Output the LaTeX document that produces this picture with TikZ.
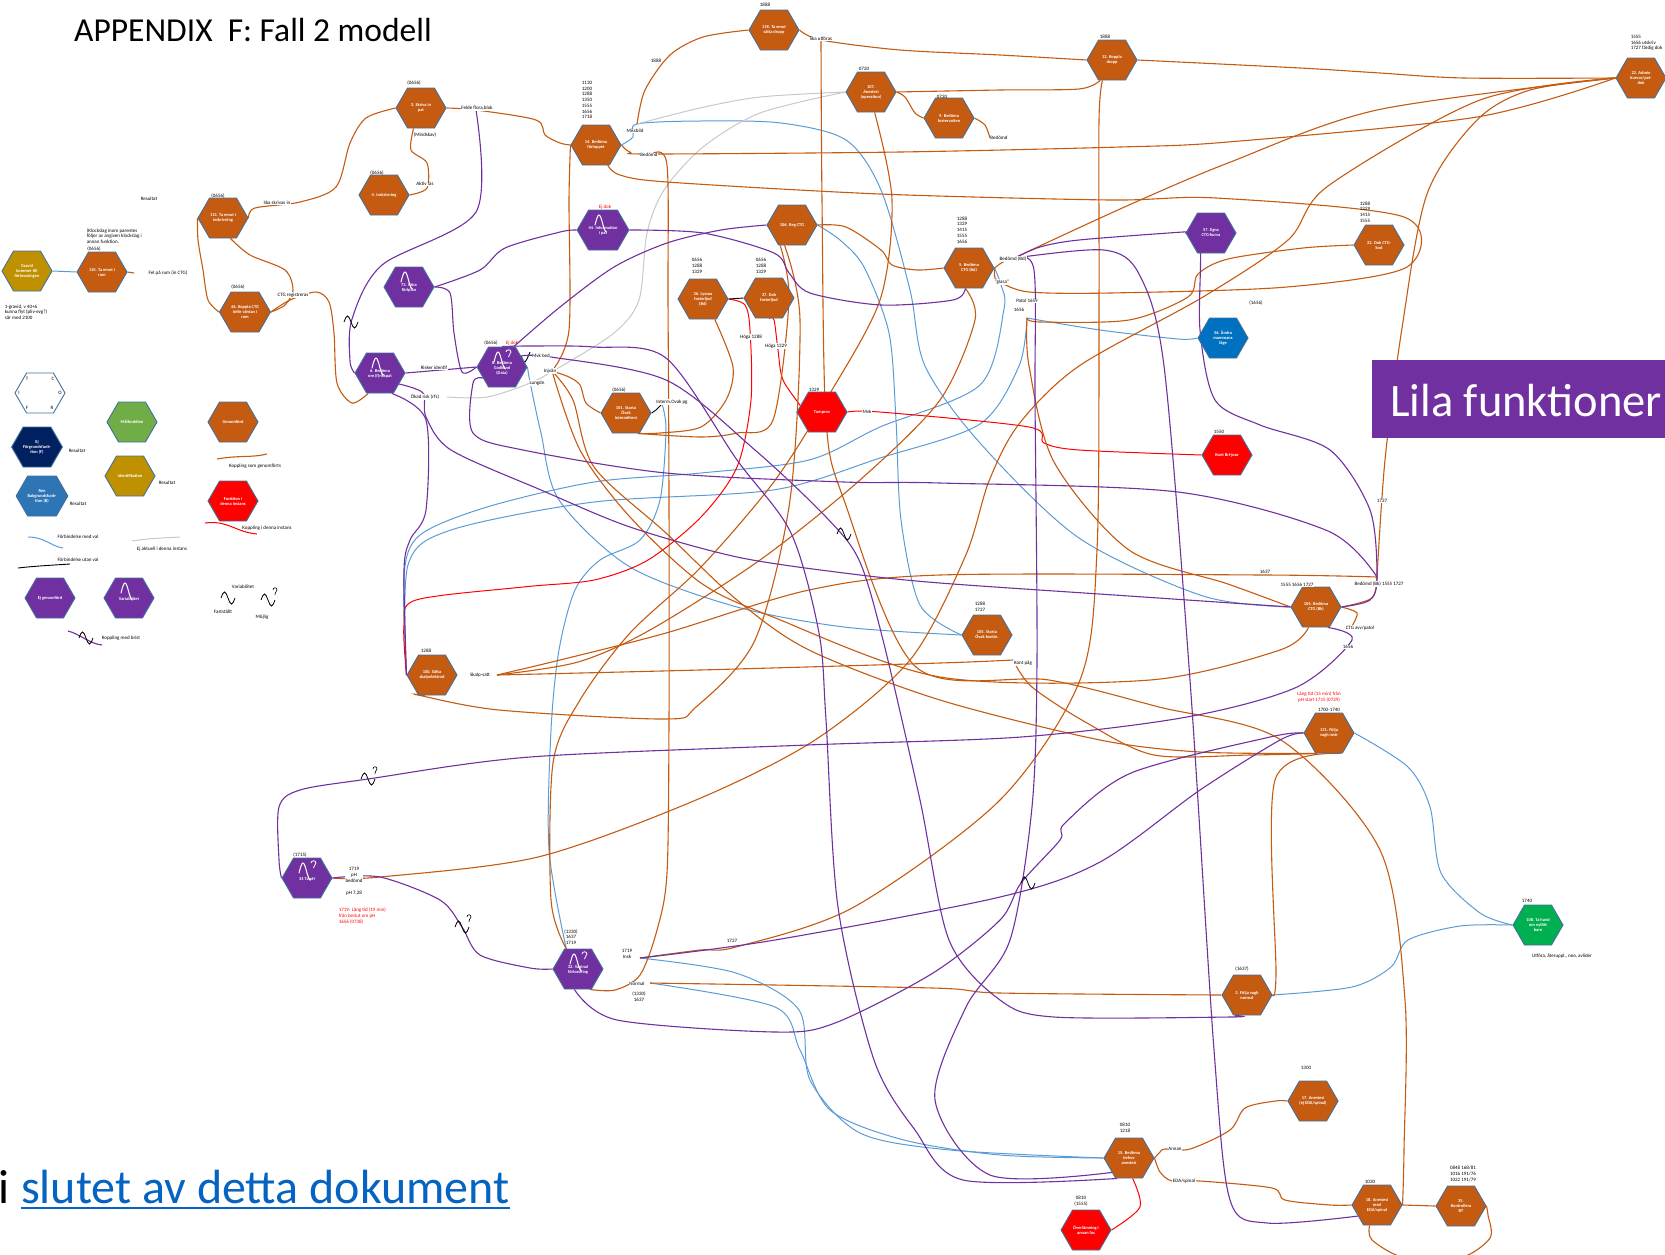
\documentclass[tikz,border=0pt]{standalone}
\usepackage{fontspec}
\setmainfont{Carlito}
\usetikzlibrary{shapes.symbols,calc}
\definecolor{cOr}{HTML}{C55A11}
\definecolor{cPu}{HTML}{7030A0}
\definecolor{cRe}{HTML}{FF0000}
\definecolor{cBl}{HTML}{5B9BD5}
\definecolor{cGy}{HTML}{C8C8C8}
\definecolor{cEdge}{HTML}{41719C}
\definecolor{cNavy}{HTML}{002060}
\definecolor{cLB}{HTML}{2E75B6}
\definecolor{cB56}{HTML}{0070C0}
\definecolor{cGrn}{HTML}{70AD47}
\definecolor{cGrn2}{HTML}{00B050}
\definecolor{cGold}{HTML}{BF9000}
\definecolor{cLink}{HTML}{0563C1}
\pgfdeclarelayer{bg}
\pgfsetlayers{bg,main}
\tikzset{
 hex/.style={shape=signal, signal to=west and east, signal pointer angle=120,
   minimum width=50pt, minimum height=40pt, inner sep=0pt, draw=cEdge, line width=0.9pt,
   text=white, font=\fontsize{4.4}{5}\selectfont\bfseries, align=center},
 ho/.style={hex, fill=cOr},
 hp/.style={hex, fill=cPu},
 hr/.style={hex, fill=cRe},
 lab/.style={font=\fontsize{5}{5.7}\selectfont, inner sep=0.6pt, align=center},
 labw/.style={lab, fill=white},
 rlab/.style={lab, text=cRe},
 lnO/.style={draw=cOr, line width=1.1pt},
 lnP/.style={draw=cPu, line width=1.1pt},
 lnB/.style={draw=cBl, line width=1pt},
 lnG/.style={draw=cGy, line width=1pt},
 lnR/.style={draw=cRe, line width=1pt},
 lnK/.style={draw=black, line width=0.9pt},
 wave/.pic={\draw[white,line width=1pt,line cap=round] (-8,-5) sin (-4,-15) cos (0,-5) sin (3.5,2);},
 waveq/.pic={\draw[white,line width=1pt,line cap=round] (-8,-5) sin (-4,-15) cos (0,-5) sin (3.5,2);
   \draw[white,line width=0.8pt] (4,-15) .. controls (4,-18) and (9,-18) .. (9,-15) .. controls (9,-13) and (6.5,-13) .. (6.5,-10);},
 tilde/.pic={\draw[black,line width=0.8pt] (-7,0) sin (-3.5,-6) cos (0,0) sin (3.5,6) cos (7,0);},
 tildeq/.pic={\draw[black,line width=0.8pt] (-7,0) sin (-3.5,-6) cos (0,0) sin (3.5,6) cos (7,0);
   \draw[black,line width=0.6pt] (5,-10) .. controls (5,-13) and (9,-13) .. (9,-10) .. controls (9,-8.5) and (7,-8.5) .. (7,-5);}
}
\begin{document}
\begin{tikzpicture}[x=1pt,y=-1pt]
\useasboundingbox (0,0) rectangle (1665,1254);

% ---------- headings ----------
\node[anchor=base west, font=\fontsize{33.5}{33.5}\selectfont, inner sep=0pt] (title) at (74,41) {APPENDIX\ \ F: Fall 2 modell};
\fill[cPu] (1372,360) rectangle (1665,438);
\node[anchor=base west, text=white, font=\fontsize{46.5}{46.5}\selectfont, inner sep=0pt] (lila) at (1390,416) {Lila funktioner};
\node[anchor=base west, font=\fontsize{48}{48}\selectfont, inner sep=0pt] (iword) at (-2,1203) {i};
\node[anchor=base west, text=cLink, font=\fontsize{48}{48}\selectfont, inner sep=0pt] (link) at (21,1203) {slutet av detta dokument};
\draw[cLink, line width=2.6pt] ([yshift=-5pt]link.base west) -- ([yshift=-5pt]link.base east);

% ---------- function nodes ----------
\node[hex, fill=cGold] (g) at (27,271) {Gravid\\kommer till\\förlossningen};
\node[ho] (n110) at (102,272) {110. Ta emot i\\rum};
\node[ho] (n113) at (223,218) {113. Ta emot i\\inskrivning};
\node[ho] (n46) at (245,312) {46. Koppla CTG\\inför väntan i\\rum};
\node[ho] (n3) at (421,108) {3. Skriva in\\pat};
\node[ho] (n4) at (384,195) {4. Inskrivning};
\node[hp] (n73) at (409,287) {\mbox{}\\73. Göra\\förlplan};
\node[hp] (n6) at (380,373) {\mbox{}\\6. Bedöma\\om (f)riskpat};
\node[hp] (n8) at (502,367) {\mbox{}\\8. Bedöma\\Godkänd\\(Data)};
\node[ho] (n14) at (596,145) {14. Bedöma\\förloppet};
\node[ho] (n118) at (774,30) {118. Ta emot\\sätta dropp};
\node[ho] (n107) at (871,92) {107.\\Anestesi\\(operation)};
\node[ho] (n9) at (949,118) {9. Bedöma\\fostervatten};
\node[ho] (n12) at (1112,60) {12. Koppla\\dropp};
\node[ho] (n23) at (1641,78) {23. Admin\\kurvor/pat-\\dok};
\node[hp] (n44) at (603,230) {\mbox{}\\44. Information\\i pat};
\node[ho] (n106) at (792,225) {106. Reg CTG};
\node[ho] (n36) at (703,299) {36. Lyssna\\fosterljud\\(Bd)};
\node[ho] (n37) at (769,298) {37. Dok\\fosterljud};
\node[ho] (n5) at (969,268) {5. Bedöma\\CTG (Bd)};
\node[hp] (n57) at (1211,233) {57. Egna\\CTG-kurva};
\node[ho] (n22) at (1379,245) {22. Dok CTG-\\kod};
\node[hex, fill=cB56] (n56) at (1223,338) {56. Ändra\\mammans\\läge};
\node[ho] (n101) at (626,413) {101. Starta\\Övak\\intermittent};
\node[hr] (ntu) at (822,412) {Tumprov};
\node[hr] (nkb) at (1227,455) {Kont Bri-jour};
\node[ho] (n100) at (432,675) {100. Sätta\\skalpelektrod};
\node[ho] (n105) at (987,635) {105. Starta\\Övak kontin.};
\node[ho] (n104) at (1316,607) {104. Bedöma\\CTG (Bk)};
\node[ho] (n131) at (1329,733) {131. Följa\\vagh instr};
\node[hex, fill=cGrn2] (n108) at (1538,925) {108. Ta hand\\om nyfött\\barn};
\node[hp] (n34) at (307,878) {\mbox{}\\34 Ta pH};
\node[hp] (n32) at (578,969) {\mbox{}\\32. Vaginal\\förlossning};
\node[ho] (n3f) at (1247,995) {3. Följa vagh\\normal};
\node[ho] (n15) at (1129,1158) {15. Bedöma\\behov\\anestesi};
\node[ho] (n17) at (1313,1101) {17. Anestesi\\(ej EDA/spinal)};
\node[hr] (nov) at (1086,1230) {Överlämning i\\annan fas};
\node[ho] (n18) at (1377,1205) {18. Anestesi\\med\\EDA/spinal};
\node[ho] (n35) at (1461,1206) {35.\\Kontrollera\\BT};

\pic at (n73) {wave};
\pic at (n6) {wave};
\pic at (n8) {waveq};
\pic at (n44) {wave};
\pic at (n34) {waveq};
\pic at (n32) {waveq};

% ---------- legend ----------
\node[hex, fill=white] (lgT) at (40,393) {};
\node[lab] (lt1) at (27,379) {T};
\node[lab] (lt2) at (53,379) {C};
\node[lab] (lt3) at (19,393) {I};
\node[lab] (lt4) at (60,393) {O};
\node[lab] (lt5) at (27,408) {F};
\node[lab] (lt6) at (52,408) {R};
\node[hex, fill=cNavy] (lgF) at (37,447) {Ej\\Förgrundsfunk-\\tion (F)};
\node[hex, fill=cLB] (lgB) at (42,496) {Ren\\Bakgrundsfunk-\\tion (B)};
\node[hex, fill=cGrn] (lgM) at (132,422) {Målfunktion};
\node[hex, fill=cGold] (lgI) at (130,476) {Identifikation};
\node[ho] (lgG) at (233,422) {Genomförd};
\node[hr] (lgR) at (233,501) {Funktion i\\denna instans};
\node[hp] (lgE) at (50,598) {Ej genomförd};
\node[hp] (lgV) at (129,598) {\mbox{}\\Variabilitet};
\pic at (lgV) {wave};
\node[lab] (lr1) at (77,451) {Resultat};
\node[lab] (lr2) at (78,504) {Resultat};
\node[lab] (lr3) at (167,483) {Resultat};
\draw[lnO] (217,459) .. controls (240,455) and (250,458) .. (267,454);
\node[lab] (lk1) at (255,466) {Koppling som genomförts};
\draw[lnR] (205,523) .. controls (228,520) and (235,532) .. (257,534);
\node[lab] (lk2) at (267,528) {Koppling i denna instans};
\draw[lnB] (28,537) .. controls (45,537) and (50,546) .. (63,548);
\node[lab] (lk3) at (78,537) {Förbindelse med val};
\draw[lnG] (132,541) .. controls (150,538) and (165,538) .. (180,537);
\node[lab] (lk4) at (162,549) {Ej aktuell i denna instans};
\draw[lnK] (18,568) .. controls (35,566) and (55,565) .. (70,564);
\node[lab] (lk5) at (78,560) {Förbindelse utan val};
\pic at (228,598) {tilde};
\pic at (268,600) {tildeq};
\node[lab] (lk6) at (243,587) {Variabilitet};
\node[lab] (lk7) at (223,612) {Fastställt};
\node[lab] (lk8) at (262,617) {Möjlig};
\draw[lnP] (68,631) .. controls (80,634) and (90,644) .. (102,645);
\pic at (86,638) {tilde};
\node[lab] (lk9) at (121,638) {Koppling med brist};

% ---------- named junctions on connectors ----------
\coordinate (missb) at (637,124);
\coordinate (bedd14) at (652,154);
\coordinate (skautf) at (821,40);
\coordinate (felde) at (476,110);
\coordinate (pat) at (1027,318);
\coordinate (glasa) at (1002,283);
\coordinate (bedbd) at (1015,258);
\coordinate (injv) at (552,371);
\coordinate (corner) at (1377,577);
\coordinate (skalp) at (497,675);
\coordinate (kontpag) at (1013,660);
\coordinate (insk) at (640,958);
\coordinate (norm) at (650,983);
\coordinate (okad) at (447,397);
\coordinate (ctgreg) at (316,292);
\coordinate (interm) at (662,404);
\coordinate (felrum) at (134,273);
\coordinate (bed9) at (990,138);
\coordinate (annan) at (1165,1149);
\coordinate (eda) at (1172,1181);
\coordinate (ctgavv) at (1352,626);

\begin{pgfonlayer}{bg}
% ---- blue: connections with choice ----
\draw[lnB] (g.east) -- (n110.west);
\draw[lnB] plot[smooth] coordinates {(n14.east) (633,137) (missb) (700,121) (781,123) (846,140) (881,190) (910,290) (925,366) (980,443) (1079,538) (1203,596) (n104.west)};
\draw[lnB] plot[smooth] coordinates {(n106.east) (840,240) (864,267) (889,333) (896,420) (901,520) (920,605) (n105.west)};
\draw[lnB] plot[smooth] coordinates {(n5.east) (1001,285) (1004,309) (980,385) (880,427) (809,460) (701,473) (594,482) (487,507) (420,535) (404,575) (n100.west)};
\draw[lnB] plot[smooth] coordinates {(pat) (1019,366) (980,424) (880,458) (773,490) (594,502) (451,530) (408,565) (n100.west)};
\draw[lnB] plot[smooth] coordinates {(pat) (1100,330) (1178,339) (n56.west)};
\draw[lnB] plot[smooth] coordinates {(n8.east) (530,382) (541,433) (559,500) (630,567) (737,607) (844,627) (n105.west)};
\draw[lnB] plot[smooth] coordinates {(interm) (666,430) (660,500) (640,540) (600,560) (575,590) (559,650) (551,730) (549,850) (n32.120)};
\draw[lnB] plot[smooth] coordinates {(insk) (736,973) (799,1010) (810,1080) (860,1133) (950,1150) (n15.west)};
\draw[lnB] plot[smooth] coordinates {(norm) (775,1007) (800,1050) (830,1110) (904,1140) (1000,1155) (n15.west)};
\draw[lnB] plot[smooth] coordinates {(n131.east) (1408,767) (1430,807) (1441,873) (1480,913) (n108.west)};
\draw[lnB] plot[smooth] coordinates {(n3f.east) (1352,987) (1391,967) (1408,940) (1460,926) (n108.west)};

% ---- red: connections in this instance ----
\draw[lnR] plot[smooth] coordinates {(n36.east) (745,305) (750,330) (751,400) (737,467) (701,517) (648,560) (594,580) (523,587) (416,600) (404,625) (n100.west)};
\draw[lnR] plot[smooth] coordinates {(n37.south) (774,320) (778,350) (783,380) (803,410) (ntu.west)};
\draw[lnR] plot[smooth] coordinates {(ntu.east) (880,412) (1029,427) (1044,443) (1079,450) (nkb.west)};
\draw[lnR] plot[smooth] coordinates {(n15.-80) (1140,1207) (nov.east)};

% ---- grey: not relevant here ----
\draw[lnG] plot[smooth] coordinates {(missb) (700,108) (760,97) (n107.west)};
\draw[lnG] plot[smooth] coordinates {(n107.west) (760,113) (703,147) (664,190) (647,233) (639,300) (614,333) (560,367) (530,383) (487,397) (okad)};

% ---- black ----
\draw[lnK] (n36.east) -- (n37.west);
\draw[lnK] plot[smooth] coordinates {(n8.30) (525,362) (530,352)};
\draw[lnK] plot[smooth] coordinates {(n101.east) (656,410) (interm)};

% ---- orange: completed connections ----
\draw[lnO] plot[smooth] coordinates {(n113.west) (198,240) (203,270) (208,300) (n46.west)};
\draw[lnO] plot[smooth] coordinates {(n46.east) (285,305) (293,290) (285,270) (250,255) (n113.-70)};
\draw[lnO] plot[smooth] coordinates {(n46.east) (290,300) (ctgreg) (329,302) (334,333) (337,383) (352,403) (n6.-120)};
\draw[lnO] plot[smooth] coordinates {(n113.east) (255,208) (300,202) (336,187) (350,143) (366,118) (n3.west)};
\draw[lnO] plot[smooth] coordinates {(n3.-110) (411,150) (427,163) (427,188) (n4.east)};
\draw[lnO] plot[smooth] coordinates {(n3.east) (felde) (536,120) (545,135) (560,143) (n14.west)};
\draw[lnO] (n110.east) -- (felrum);
\draw[lnO] plot[smooth] coordinates {(missb) (645,90) (670,55) (703,37) (n118.west)};
\draw[lnO] plot[smooth] coordinates {(n118.east) (skautf) (900,50) (1000,55) (n12.west)};
\draw[lnO] plot[smooth] coordinates {(n12.east) (1300,68) (1380,73) (1464,78) (n23.west)};
\draw[lnO] plot[smooth] coordinates {(n107.east) (1000,90) (1079,89) (n12.-120)};
\draw[lnO] plot[smooth] coordinates {(n107.east) (905,97) (915,113) (n9.west)};
\draw[lnO] plot[smooth] coordinates {(n9.east) (985,125) (bed9)};
\draw[lnO] plot[smooth] coordinates {(n14.east) (630,152) (bedd14) (900,152) (1120,147) (1228,142) (1477,117) (n23.west)};
\draw[lnO] plot[smooth] coordinates {(bedd14) (667,165) (668,300) (669,500) (669,720) (667,873) (657,930) (640,975) (615,990) (n32.-60)};
\draw[lnO] plot[smooth] coordinates {(n14.-60) (620,175) (667,182) (880,194) (1110,200) (1216,198) (1404,217) (1407,267) (1287,287) (1110,293) (1029,292) (glasa)};
\draw[lnO] plot[smooth] coordinates {(skautf) (822,200) (826,420) (844,500) (916,667) (1049,680) (1159,707) (1281,740) (1380,850) (1405,1000) (1404,1150) (n18.east)};
\draw[lnO] plot[smooth] coordinates {(skalp) (560,660) (666,633) (809,590) (940,575) (1265,575) (corner)};
\draw[lnO] plot[smooth] coordinates {(skalp) (700,670) (940,663) (kontpag)};
\draw[lnO] plot[smooth] coordinates {(skalp) (578,662) (650,630) (760,560) (860,480) (940,400) (975,320) (n5.-100)};
\draw[lnO] plot[smooth] coordinates {(n100.-110) (418,695) (499,710) (665,719) (696,707) (755,640) (790,500) (800,320) (n106.-110)};
\draw[lnO] plot[smooth] coordinates {(n107.-80) (892,200) (880,300) (826,400) (773,483) (701,567) (630,633) (580,700) (553,763) (551,900) (n32.120)};
\draw[lnO] plot[smooth] coordinates {(insk) (700,950) (736,947) (854,907) (1000,800) (1080,680) (1097,550) (1099,300) (1099,120) (n12.-115)};
\draw[lnO] plot[smooth] coordinates {(norm) (933,988) (1000,993) (n3f.west)};
\draw[lnO] plot[smooth] coordinates {(n34.east) (380,877) (538,857) (696,800) (815,740) (910,660) (965,557) (989,481) (1019,424) (1079,366) (1203,297) (1288,240) (1328,186) (1480,100) (n23.west)};
\draw[lnO] plot[smooth] coordinates {(n23.west) (1377,110) (1228,163) (1129,205) (1029,251) (bedbd)};
\draw[lnO] plot[smooth] coordinates {(n23.west) (1530,90) (1477,120) (1427,194) (1402,328) (1385,460) (corner)};
\draw[lnO] plot[smooth] coordinates {(n104.east) (1372,598) (corner)};
\draw[lnO] plot[smooth] coordinates {(n22.west) (1303,248) (1228,259) (1198,274) (1188,297) (1129,320) (1040,322) (pat)};
\draw[lnO] plot[smooth] coordinates {(n106.east) (846,227) (881,250) (892,265) (917,270) (n5.west)};
\draw[lnO] plot[smooth] coordinates {(n101.-60) (701,437) (737,433) (773,420) (789,300) (n106.-120)};
\draw[lnO] plot[smooth] coordinates {(n36.-60) (733,367) (726,400) (701,427) (660,433) (n101.-60)};
\draw[lnO] plot[smooth] coordinates {(injv) (569,377) (580,385) (586,403) (n101.west)};
\draw[lnO] plot[smooth] coordinates {(injv) (573,400) (594,467) (666,533) (737,600) (809,650) (940,700) (1100,740) (1200,752) (n131.-120)};
\draw[lnO] plot[smooth] coordinates {(injv) (580,450) (630,517) (701,583) (773,617) (940,677) (1150,680) (1280,650) (n104.-110)};
\draw[lnO] plot[smooth] coordinates {(n14.west) (569,200) (569,330) (injv)};
\draw[lnO] plot[smooth] coordinates {(kontpag) (1032,687) (1087,723) (1154,755) (1250,755) (n131.-120)};
\draw[lnO] plot[smooth] coordinates {(n131.-60) (1275,780) (1276,973) (n3f.east)};
\draw[lnO] plot[smooth] coordinates {(pat) (1029,366) (1054,462) (1129,550) (1228,584) (n104.west)};
\draw[lnO] plot[smooth] coordinates {(n5.east) (1003,262) (bedbd)};
\draw[lnO] plot[smooth] coordinates {(n5.east) (995,278) (glasa)};
\draw[lnO] plot[smooth] coordinates {(n15.east) (1160,1152) (annan) (1190,1149) (1230,1130) (1245,1108) (1275,1101) (n17.west)};
\draw[lnO] plot[smooth] coordinates {(n15.east) (1160,1172) (eda) (1200,1181) (1272,1188) (1285,1200) (1330,1205) (n18.west)};
\draw[lnO] (n18.east) -- (n35.west);
\draw[lnO] plot[smooth] coordinates {(n18.-110) (1372,1240) (1405,1258) (1460,1258) (1490,1238) (1488,1215) (n35.east)};
\draw[lnO] plot[smooth] coordinates {(n104.east) (1357,613) (ctgavv)};

% ---- purple: not completed ----
\draw[lnP] plot[smooth] coordinates {(felde) (476,212) (382,265) (352,319) (350,361) (n6.west)};
\draw[lnP] plot[smooth] coordinates {(n73.east) (480,270) (505,248) (560,232) (n44.west)};
\draw[lnP] plot[smooth] coordinates {(n73.east) (450,293) (454,333) (462,372) (n8.west)};
\draw[lnP] plot[smooth] coordinates {(n44.east) (703,233) (774,253) (789,273) (810,293) (881,305) (953,300) (n5.-100)};
\draw[lnP] plot[smooth] coordinates {(n106.west) (721,230) (667,243) (614,267) (560,307) (n8.60)};
\draw[lnP] plot[smooth] coordinates {(n8.north) (530,346) (594,347) (666,358) (737,460) (791,533) (819,633) (826,720) (838,907) (874,1060) (915,1130) (963,1180) (n15.-120)};
\draw[lnP] plot[smooth] coordinates {(n8.30) (551,357) (666,380) (755,450) (826,517) (859,560) (883,640) (920,800) (949,940) (1000,1000) (1054,1017) (1231,1017) (n3f.-120)};
\draw[lnP] plot[smooth] coordinates {(bedbd) (1040,247) (1079,240) (1183,232) (n57.west)};
\draw[lnP] plot[smooth] coordinates {(bedbd) (1104,250) (1139,274) (1164,366) (1190,680) (1214,1050) (1230,1200) (1267,1223) (n18.-150)};
\draw[lnP] plot[smooth] coordinates {(bedbd) (1034,270) (1035,400) (1037,660) (1032,807) (1010,940) (966,1007) (935,1100) (990,1175) (n15.-140)};
\draw[lnP] plot[smooth] coordinates {(n57.west) (1200,245) (1200,330) (1215,400) (1260,425) (1330,450) (1370,510) (corner) (1370,600) (n104.east)};
\draw[lnP] plot[smooth] coordinates {(n8.-150) (473,383) (473,433) (523,450) (666,473) (844,482) (940,483) (1178,492) (1328,531) (corner)};
\draw[lnP] (n6.east) -- (n8.west);
\draw[lnP] plot[smooth] coordinates {(n6.-30) (423,393) (426,417) (451,450) (541,490) (630,527) (737,557) (844,573) (940,583) (1129,596) (n104.west)};
\draw[lnP] plot[smooth] coordinates {(n6.-60) (426,420) (426,510) (410,540) (404,570) (n100.west)};
\draw[lnP] plot[smooth] coordinates {(n104.-60) (1352,640) (1297,687) (1187,717) (1021,737) (807,745) (530,757) (368,779) (300,790) (279,807) (279,860) (n34.west)};
\draw[lnP] plot[smooth] coordinates {(n34.east) (380,877) (440,900) (462,927) (480,955) (530,968) (n32.west)};
\draw[lnP] plot[smooth] coordinates {(n32.-100) (617,1020) (775,1032) (835,1023) (933,973) (1000,920) (1021,883) (1060,840) (1065,823) (1131,773) (1270,737) (n131.west)};
\draw[lnP] plot[smooth] coordinates {(insk) (775,940) (1000,897) (1100,862) (1200,790) (1280,740) (n131.west)};
\end{pgfonlayer}

% ---------- wave marks on connectors ----------
\pic at (351,322) {tilde};
\pic at (844,534) {tilde};
\pic at (368,779) {tildeq};
\pic at (462,927) {tildeq};
\pic at (1028,883) {tilde};

% ---------- times and notes ----------
\node[lab] (a1) at (414,83) {(0656)};
\node[labw] (a2) at (477,108) {Felde flora,blok};
\node[lab] (a3) at (425,135) {(Mindskav)};
\node[lab] (a4) at (377,173) {(0656)};
\node[labw] (a5) at (425,184) {Aktiv fas};
\node[lab] (a6) at (218,196) {(0656)};
\node[labw] (a7) at (277,203) {Ska skrivas in};
\node[lab] (a8) at (149,199) {Resultat};
\node[lab, anchor=west, align=left] (a9) at (86,236) {(Klockslag inom parentes\\följer av angiven klockslag i\\annan funktion.};
\node[lab] (a10) at (94,249) {(0656)};
\node[labw] (a11) at (168,273) {Fel på rum (in CTG)};
\node[lab, anchor=west, align=left] (a12) at (4,312) {1-gravid, v 40+6\\kunna flyt (pliv-evg?)\\sår med 2100};
\node[lab] (a13) at (238,287) {(0656)};
\node[labw] (a14) at (293,295) {CTG registreras};
\node[labw] (a15) at (434,368) {Risker identif};
\node[labw] (a16) at (425,397) {Ökad risk (rfs)};
\node[lab] (a17) at (491,343) {(0656)};
\node[rlab] (a18) at (512,343) {Ej dok};
\node[labw] (a19) at (541,356) {Mvk bed};
\node[labw] (a20) at (550,371) {Injvän};
\node[labw] (a21) at (537,383) {Lungdn};
\node[lab] (a22) at (587,100) {1130\\1200\\1288\\1350\\1555\\1656\\1718};
\node[labw] (a23) at (635,131) {Missbild};
\node[labw] (a24) at (649,155) {Bedömd};
\node[lab] (a25) at (765,5) {1888};
\node[labw] (a26) at (821,39) {Ska utföras};
\node[lab] (a27) at (656,61) {1888};
\node[lab] (a28) at (864,69) {0720};
\node[lab] (a29) at (942,97) {0720};
\node[labw] (a30) at (999,138) {Bedömd};
\node[lab] (a31) at (1105,37) {1888};
\node[lab, anchor=west, align=left] (a32) at (1630,43) {1555\\1656 utskriv\\1727 färdig dok};
\node[rlab] (a33) at (605,207) {Ej dok};
\node[lab] (a34) at (697,266) {0656\\1288\\1329};
\node[lab] (a35) at (761,266) {0656\\1288\\1329};
\node[lab] (a36) at (962,230) {1288\\1329\\1415\\1555\\1656};
\node[labw] (a37) at (1013,259) {Bedömd (Bd)};
\node[labw] (a38) at (1002,282) {"glasa"};
\node[labw] (a39) at (1027,301) {Patol 1659};
\node[labw] (a40) at (1019,310) {1656};
\node[lab] (a41) at (1365,212) {1288\\1329\\1415\\1555};
\node[lab] (a42) at (1256,303) {(1656)};
\node[labw] (a43) at (751,337) {Höga 1288};
\node[labw] (a44) at (776,346) {Höga 1329};
\node[lab] (a45) at (814,390) {1329};
\node[labw] (a46) at (867,412) {Mvk};
\node[lab] (a47) at (619,390) {(0656)};
\node[labw] (a48) at (672,402) {Interm.Ovak pg};
\node[lab] (a49) at (1219,432) {1550};
\node[labw] (a50) at (1297,585) {1555 1656 1727};
\node[labw] (a51) at (1379,584) {Bedömd (Bk) 1555 1727};
\node[labw] (a52) at (1360,628) {CTG avv/patol};
\node[labw] (a53) at (1348,647) {1656};
\node[labw] (a54) at (1382,501) {1727};
\node[labw] (a55) at (1265,572) {1637};
\node[lab] (a56) at (980,607) {1288\\1727};
\node[labw] (a57) at (1023,663) {Kont påg};
\node[lab] (a58) at (426,651) {1288};
\node[labw] (a59) at (480,675) {Skalp-satt};
\node[rlab] (a60) at (1319,697) {Lång tid (15 min) från\\pH start 1715 (0729)};
\node[lab] (a61) at (1329,710) {1700-1740};
\node[lab] (a62) at (1527,901) {1740};
\node[lab] (a63) at (1562,956) {Utföra, återuppl., neo, avlider};
\node[lab] (a64) at (300,855) {(1715)};
\node[labw] (a65) at (354,875) {1719\\pH\\bedömd};
\node[lab] (a66) at (354,893) {pH 7,28};
\node[rlab, anchor=west, align=left] (a67) at (338,916) {1719: Lång tid (19 min)\\från beslut om pH\\1656 (0738)};
\node[lab] (a68) at (571,937) {(1330)\\1637\\1719};
\node[labw] (a69) at (627,954) {1719\\Insk};
\node[labw] (a70) at (637,984) {Normal};
\node[lab] (a71) at (639,997) {(1330)\\1637};
\node[lab] (a72) at (732,941) {1727};
\node[lab] (a73) at (1242,969) {(1637)};
\node[lab] (a74) at (1125,1128) {0810\\1218};
\node[labw] (a75) at (1175,1149) {Annan};
\node[labw] (a76) at (1184,1181) {EDA/spinal};
\node[lab] (a77) at (1306,1068) {1300};
\node[lab] (a78) at (1081,1201) {0810\\(1555)};
\node[lab] (a79) at (1370,1182) {1030};
\node[lab] (a80) at (1463,1174) {0848 168/81\\1016 191/76\\1022 191/79};
\end{tikzpicture}
\end{document}
